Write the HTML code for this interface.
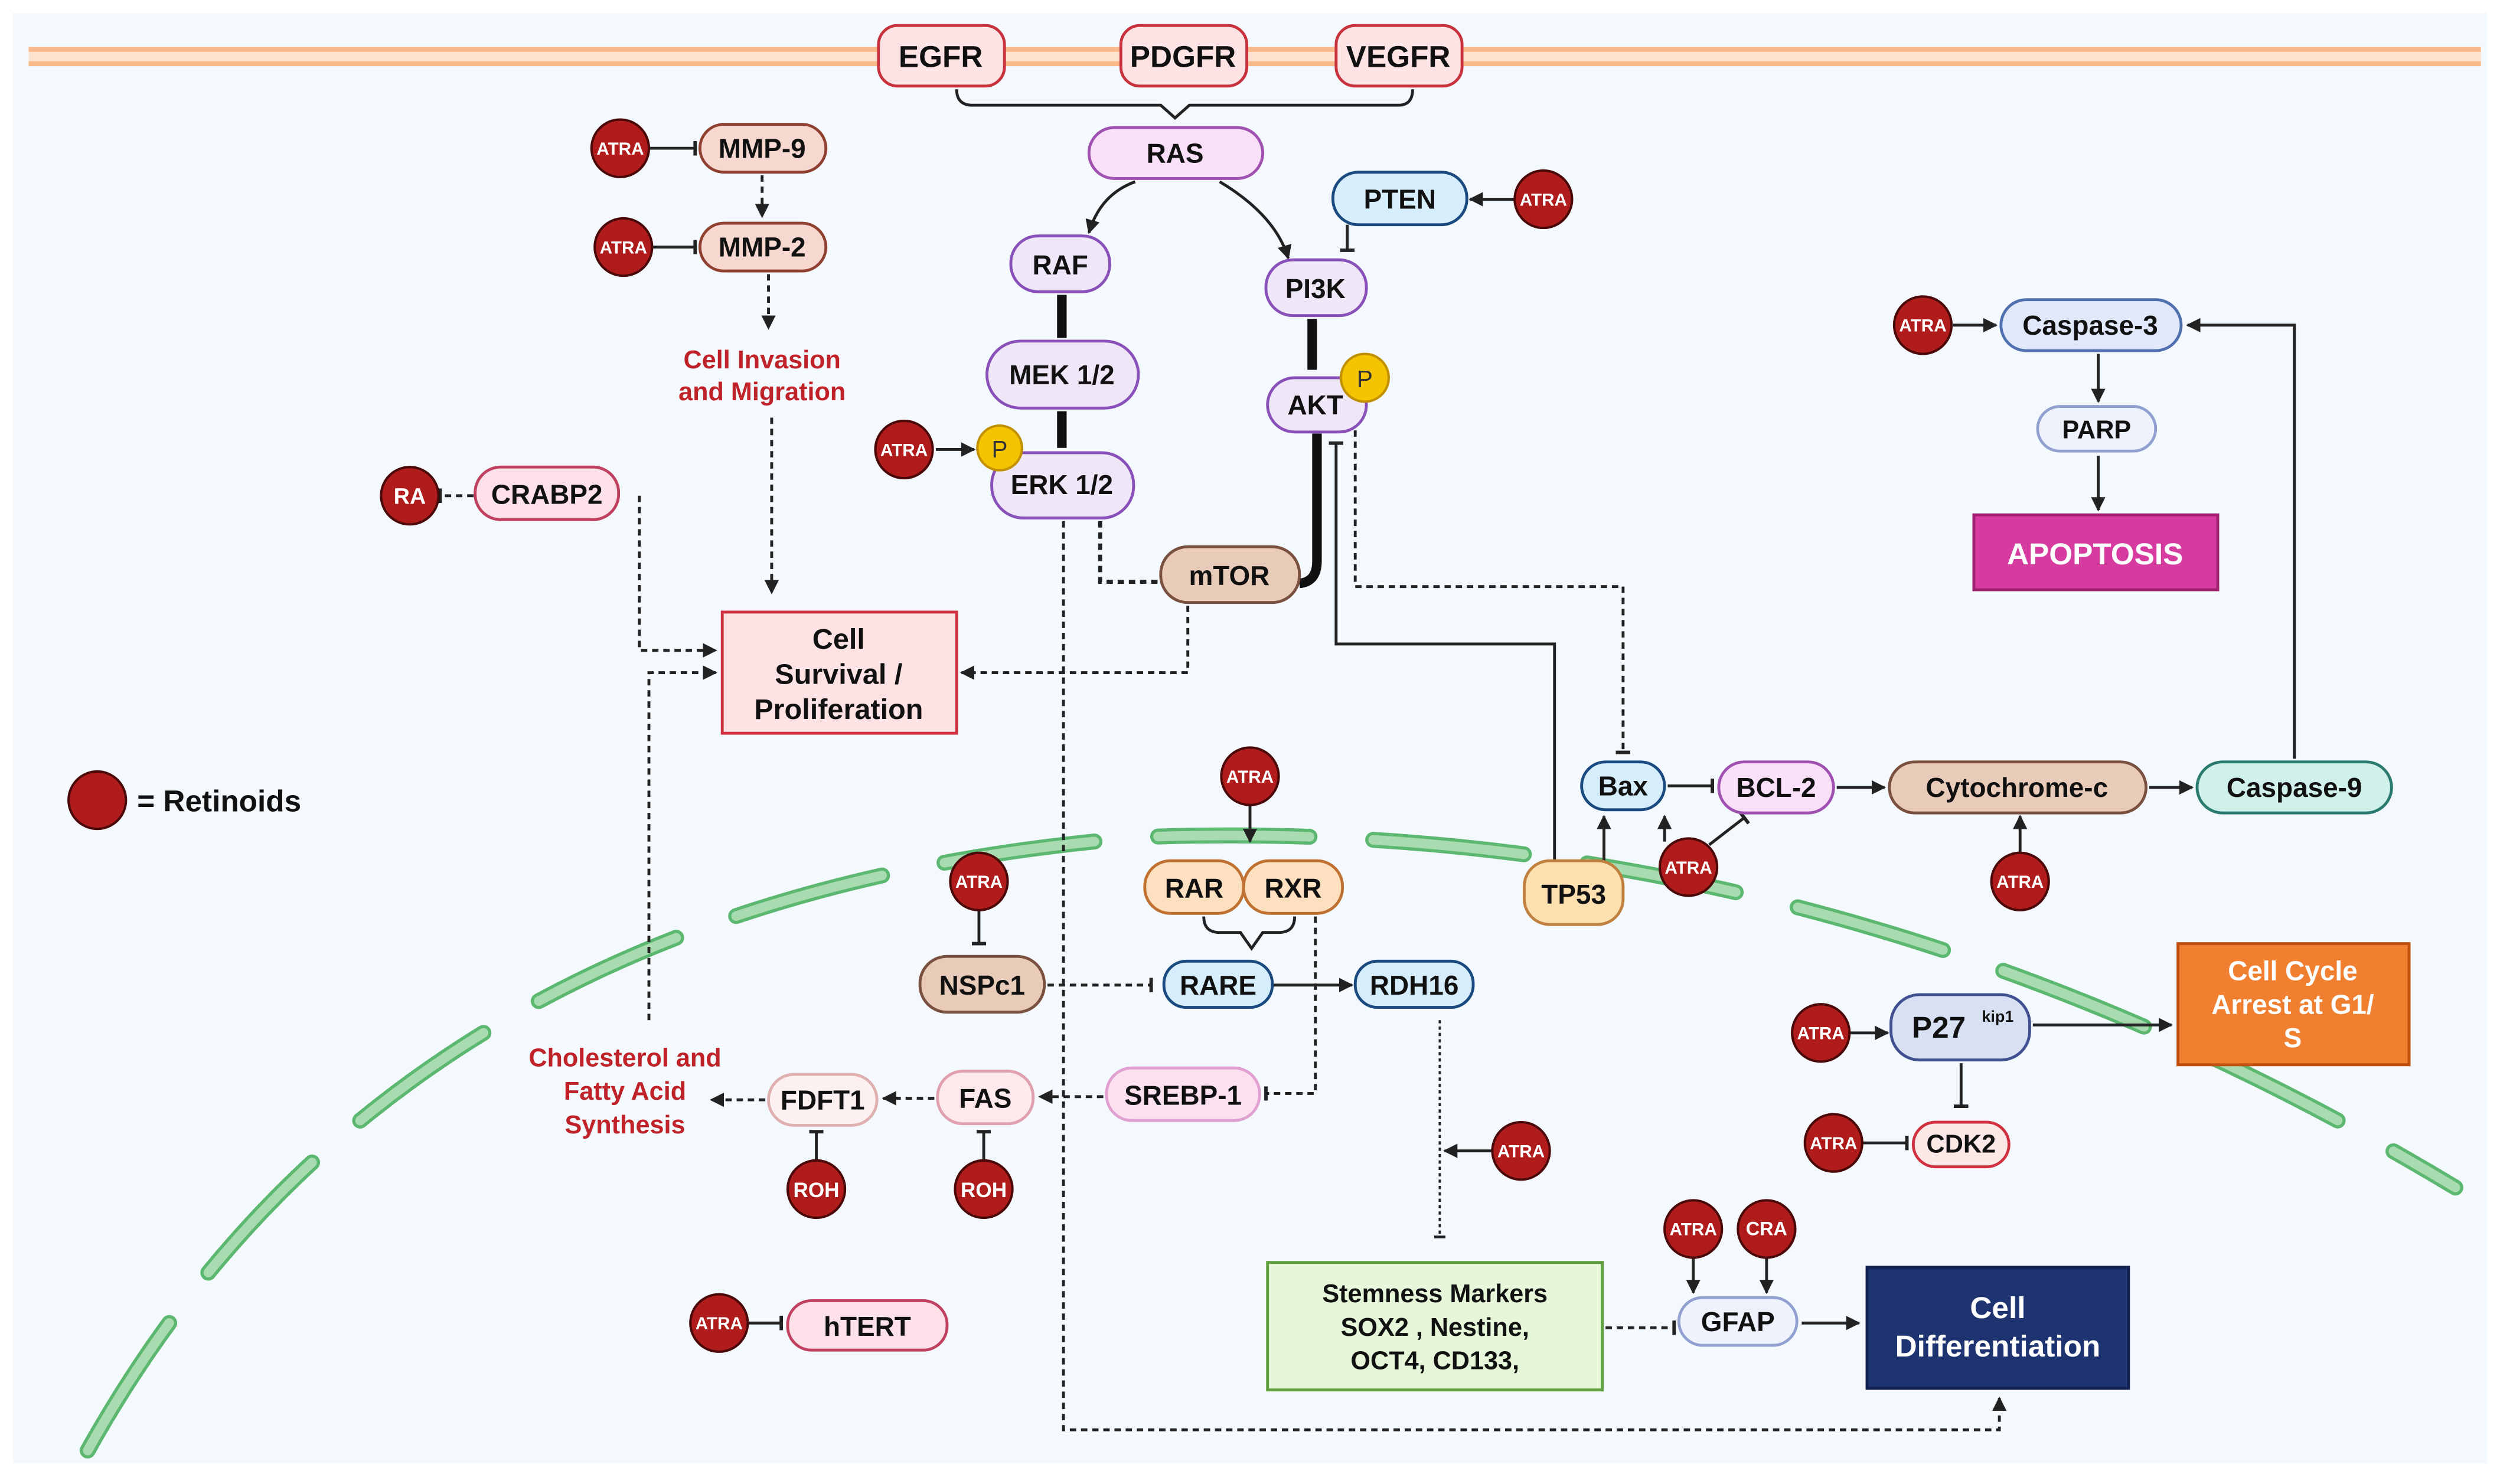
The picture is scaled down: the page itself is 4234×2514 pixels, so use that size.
<!DOCTYPE html>
<html><head><meta charset="utf-8"><style>
html,body{margin:0;padding:0;background:#fff}
svg{display:block}
text{font-family:"Liberation Sans",sans-serif;font-weight:bold}
</style></head><body>
<svg width="4234" height="2514" viewBox="0 0 1568 931" preserveAspectRatio="none" xmlns="http://www.w3.org/2000/svg">
<defs>
<marker id="a" viewBox="0 0 10 10" refX="9" refY="5" markerWidth="5" markerHeight="5" orient="auto"><path d="M0,0L10,5L0,10z" fill="#222"/></marker>
<marker id="b" viewBox="0 0 10 10" refX="5" refY="5" markerWidth="5" markerHeight="5" orient="auto"><path d="M5,-2V12" stroke="#222" stroke-width="2.4"/></marker>
</defs>
<rect x="0" y="0" width="1568" height="931" fill="#fff"/>
<rect x="8" y="8" width="1552" height="910" fill="#f3f9fc"/>
<!-- membrane -->
<rect x="18" y="31" width="1538" height="9" fill="#fde3cf"/>
<line x1="18" y1="31" x2="1556" y2="31" stroke="#f9b98a" stroke-width="3"/>
<line x1="18" y1="40" x2="1556" y2="40" stroke="#f9b98a" stroke-width="3"/>
<!-- nuclear membrane -->
<path d="M55 910 Q250 560 720 525 Q1150 510 1540 745" fill="none" stroke="#5cb870" stroke-width="10" stroke-dasharray="95 40" stroke-linecap="round"/>
<path d="M55 910 Q250 560 720 525 Q1150 510 1540 745" fill="none" stroke="#a8dcb0" stroke-width="6" stroke-dasharray="95 40" stroke-linecap="round"/>
<g stroke="#222" stroke-width="1.8" fill="none">
<!-- brace -->
<path d="M600 56 Q600 66 610 66 H728 L737 74 L746 66 H877 Q886 66 886 56"/>
<path d="M712 114 Q690 122 683 146" marker-end="url(#a)"/>
<path d="M765 114 Q800 135 808 162" marker-end="url(#a)"/>
<path d="M950 125 H922" marker-end="url(#a)"/>
<path d="M845 141 V157" marker-end="url(#b)"/>
<path d="M587 282 H611" marker-end="url(#a)"/>
<path d="M406 93 H436" marker-end="url(#b)"/>
<path d="M408 155 H436" marker-end="url(#b)"/>
<path d="M478 110 V136" stroke-dasharray="4 3" marker-end="url(#a)"/>
<path d="M482 172 V206" stroke-dasharray="4 3" marker-end="url(#a)"/>
<path d="M484 262 V372" stroke-dasharray="4 3" marker-end="url(#a)"/>
<path d="M297 311 H276" stroke-dasharray="4 3" marker-end="url(#b)"/>
<path d="M401 311 V408 H449" stroke-dasharray="4 3" marker-end="url(#a)"/>
<path d="M407 640 V422 H449" stroke-dasharray="4 3" marker-end="url(#a)"/>
<path d="M745 380 V422 H603" stroke-dasharray="4 3" marker-end="url(#a)"/>
<path d="M690 327 V365 H728" stroke-dasharray="4 3" stroke-width="2.5"/>
<path d="M667 327 V897 H1254 V877" stroke-dasharray="4 3" marker-end="url(#a)"/>
<path d="M975 540 V404 H838 V278" marker-end="url(#b)"/>
<path d="M850 270 V368 H1018 V472" stroke-dasharray="4 3" marker-end="url(#b)"/>
<path d="M1046 493 H1074" marker-end="url(#b)"/>
<path d="M1152 494 H1182" marker-end="url(#a)"/>
<path d="M1348 494 H1375" marker-end="url(#a)"/>
<path d="M1439 476 V204 H1372" marker-end="url(#a)"/>
<path d="M1225 204 H1252" marker-end="url(#a)"/>
<path d="M1316 222 V252" marker-end="url(#a)"/>
<path d="M1316 286 V320" marker-end="url(#a)"/>
<path d="M1006 540 V512" marker-end="url(#a)"/>
<path d="M1044 528 V512" marker-end="url(#a)"/>
<path d="M1072 530 L1094 513" marker-end="url(#b)"/>
<path d="M1267 535 V512" marker-end="url(#a)"/>
<path d="M784 505 V528" marker-end="url(#a)"/>
<path d="M755 575 Q755 585 765 585 H778 L785 595 L792 585 H802 Q812 585 812 575"/>
<path d="M798 618 H848" marker-end="url(#a)"/>
<path d="M614 571 V592" marker-end="url(#b)"/>
<path d="M657 618 H722" stroke-dasharray="4 3" marker-end="url(#b)"/>
<path d="M825 575 V686 H794" stroke-dasharray="4 3" marker-end="url(#b)"/>
<path d="M692 688 H652" stroke-dasharray="4 3" marker-end="url(#a)"/>
<path d="M586 689 H554" stroke-dasharray="4 3" marker-end="url(#a)"/>
<path d="M480 690 H446" stroke-dasharray="4 3" marker-end="url(#a)"/>
<path d="M512 728 V710" marker-end="url(#b)"/>
<path d="M617 728 V710" marker-end="url(#b)"/>
<path d="M903 640 V776" stroke-dasharray="2 2" stroke-width="1.4" marker-end="url(#b)"/>
<path d="M936 722 H906" marker-end="url(#a)"/>
<path d="M1007 833 H1050" stroke-dasharray="4 3" marker-end="url(#b)"/>
<path d="M1062 789 V811" marker-end="url(#a)"/>
<path d="M1108 789 V811" marker-end="url(#a)"/>
<path d="M1130 830 H1166" marker-end="url(#a)"/>
<path d="M469 830 H490" marker-end="url(#b)"/>
<path d="M1275 643 H1362" marker-end="url(#a)"/>
<path d="M1160 648 H1184" marker-end="url(#a)"/>
<path d="M1230 667 V694" marker-end="url(#b)"/>
<path d="M1168 717 H1196" marker-end="url(#b)"/>
</g>
<g stroke="#111" stroke-width="6">
<line x1="666" y1="185" x2="666" y2="212"/><line x1="666" y1="258" x2="666" y2="281"/>
<line x1="823" y1="200" x2="823" y2="232"/>
</g>
<path d="M826 272 V352 Q826 365 815 366" stroke="#111" stroke-width="6" fill="none"/>
<!-- nodes -->
<g stroke-width="1.8">
<rect x="551" y="16" width="79" height="38" rx="12" fill="#fde3e3" stroke="#c8323c"/>
<rect x="703" y="16" width="79" height="38" rx="12" fill="#fde3e3" stroke="#c8323c"/>
<rect x="838" y="16" width="79" height="38" rx="12" fill="#fde3e3" stroke="#c8323c"/>
<rect x="683" y="80" width="109" height="32" rx="16" fill="#f9e0f8" stroke="#a050b0"/>
<rect x="836" y="108" width="84" height="33" rx="16" fill="#d6eefc" stroke="#1a4a80"/>
<rect x="634" y="148" width="62" height="35" rx="17" fill="#efe6f8" stroke="#8850b8"/>
<rect x="794" y="163" width="63" height="35" rx="17" fill="#efe6f8" stroke="#8850b8"/>
<rect x="619" y="214" width="95" height="42" rx="21" fill="#efe6f8" stroke="#8850b8"/>
<rect x="622" y="284" width="89" height="41" rx="20" fill="#efe6f8" stroke="#8850b8"/>
<rect x="795" y="237" width="62" height="34" rx="17" fill="#efe6f8" stroke="#8850b8"/>
<rect x="728" y="343" width="87" height="35" rx="17" fill="#e8cbb8" stroke="#7a5040"/>
<rect x="439" y="78" width="79" height="30" rx="15" fill="#f7d8d0" stroke="#904030"/>
<rect x="439" y="140" width="79" height="30" rx="15" fill="#f7d8d0" stroke="#904030"/>
<rect x="298" y="293" width="90" height="33" rx="16" fill="#fde0e8" stroke="#c04060"/>
<rect x="453" y="384" width="147" height="76" fill="#fde3e3" stroke="#d03040"/>
<rect x="992" y="478" width="52" height="30" rx="15" fill="#d6eefc" stroke="#1a4a80"/>
<rect x="1078" y="478" width="72" height="32" rx="16" fill="#f9e0f8" stroke="#a050b0"/>
<rect x="1185" y="478" width="161" height="32" rx="16" fill="#e8cbb8" stroke="#7a5040"/>
<rect x="1378" y="478" width="122" height="32" rx="16" fill="#d0f0ea" stroke="#2a7a70"/>
<rect x="1255" y="188" width="113" height="32" rx="16" fill="#e0e8fa" stroke="#5070b0"/>
<rect x="1278" y="255" width="74" height="28" rx="14" fill="#eef2fc" stroke="#90a0d0"/>
<rect x="1238" y="323" width="153" height="47" fill="#d63ca0" stroke="#a02070"/>
<rect x="956" y="540" width="62" height="40" rx="16" fill="#fde0b0" stroke="#c08040"/>
<rect x="718" y="540" width="62" height="33" rx="16" fill="#fde0c0" stroke="#c07030"/>
<rect x="780" y="540" width="62" height="33" rx="16" fill="#fde0c0" stroke="#c07030"/>
<rect x="730" y="603" width="68" height="29" rx="14" fill="#d6eefc" stroke="#1a4a80"/>
<rect x="850" y="603" width="74" height="29" rx="14" fill="#d6eefc" stroke="#1a4a80"/>
<rect x="577" y="600" width="78" height="35" rx="17" fill="#e8cbb8" stroke="#7a5040"/>
<rect x="694" y="670" width="96" height="33" rx="16" fill="#fde0f0" stroke="#e0a0d0"/>
<rect x="588" y="672" width="60" height="33" rx="16" fill="#fde8ec" stroke="#e0a0b0"/>
<rect x="482" y="674" width="68" height="32" rx="16" fill="#fdf0f0" stroke="#e0b0b0"/>
<rect x="795" y="792" width="210" height="80" fill="#e6f6d8" stroke="#60a040"/>
<rect x="1053" y="814" width="74" height="30" rx="15" fill="#eef2fc" stroke="#90a0d0"/>
<rect x="1171" y="795" width="164" height="76" fill="#1e3470" stroke="#102050"/>
<rect x="494" y="816" width="100" height="31" rx="15" fill="#fde0e8" stroke="#c04060"/>
<rect x="1366" y="592" width="145" height="76" fill="#f08030" stroke="#c05010"/>
<rect x="1186" y="624" width="87" height="41" rx="18" fill="#d8e0f4" stroke="#405090"/>
<rect x="1200" y="704" width="60" height="28" rx="14" fill="#fde8e8" stroke="#d03040"/>
</g>
<!-- P circles -->
<g fill="#f5c400" stroke="#c09000" stroke-width="1.5"><circle cx="627" cy="281" r="14"/><circle cx="856" cy="237" r="15"/></g>
<g font-size="15" fill="#333" text-anchor="middle" style="font-weight:normal"><text x="627" y="287" style="font-weight:normal">P</text><text x="856" y="243" style="font-weight:normal">P</text></g>
<!-- retinoid circles -->
<g fill="#b01c1c" stroke="#4a0808" stroke-width="1.5">
<circle cx="389" cy="93" r="18"/><circle cx="391" cy="155" r="18"/><circle cx="257" cy="311" r="18"/>
<circle cx="567" cy="282" r="18"/><circle cx="968" cy="125" r="18"/><circle cx="1206" cy="204" r="18"/>
<circle cx="61" cy="502" r="18"/><circle cx="784" cy="487" r="18"/><circle cx="614" cy="553" r="18"/>
<circle cx="1059" cy="544" r="18"/><circle cx="1267" cy="553" r="18"/><circle cx="1142" cy="648" r="18"/>
<circle cx="1150" cy="717" r="18"/><circle cx="954" cy="722" r="18"/><circle cx="1062" cy="771" r="18"/>
<circle cx="1108" cy="771" r="18"/><circle cx="451" cy="830" r="18"/><circle cx="512" cy="746" r="18"/><circle cx="617" cy="746" r="18"/>
</g>
<g font-size="11" fill="#fff" text-anchor="middle">
<text x="389" y="97">ATRA</text><text x="391" y="159">ATRA</text><text x="257" y="316" font-size="14">RA</text>
<text x="567" y="286">ATRA</text><text x="968" y="129">ATRA</text><text x="1206" y="208">ATRA</text>
<text x="784" y="491">ATRA</text><text x="614" y="557">ATRA</text><text x="1059" y="548">ATRA</text>
<text x="1267" y="557">ATRA</text><text x="1142" y="652">ATRA</text><text x="1150" y="721">ATRA</text>
<text x="954" y="726">ATRA</text><text x="1062" y="775">ATRA</text><text x="1108" y="775" font-size="12">CRA</text>
<text x="451" y="834">ATRA</text><text x="512" y="751" font-size="13">ROH</text><text x="617" y="751" font-size="13">ROH</text>
</g>
<!-- labels -->
<g font-size="17" fill="#111" text-anchor="middle">
<text x="590" y="42" font-size="19">EGFR</text><text x="742" y="42" font-size="19">PDGFR</text><text x="877" y="42" font-size="19">VEGFR</text>
<text x="737" y="102">RAS</text><text x="878" y="131">PTEN</text><text x="665" y="172">RAF</text><text x="825" y="187">PI3K</text>
<text x="666" y="241">MEK 1/2</text><text x="666" y="310">ERK 1/2</text><text x="825" y="260">AKT</text>
<text x="771" y="367">mTOR</text><text x="478" y="99">MMP-9</text><text x="478" y="161">MMP-2</text><text x="343" y="316">CRABP2</text>
<text x="526" y="407" font-size="18">Cell</text><text x="526" y="429" font-size="18">Survival /</text><text x="526" y="451" font-size="18">Proliferation</text>
<text x="1018" y="499">Bax</text><text x="1114" y="500">BCL-2</text><text x="1265" y="500">Cytochrome-c</text><text x="1439" y="500">Caspase-9</text>
<text x="1311" y="210">Caspase-3</text><text x="1315" y="275" font-size="16">PARP</text>
<text x="1314" y="354" font-size="19" fill="#fff">APOPTOSIS</text>
<text x="987" y="567">TP53</text><text x="749" y="563">RAR</text><text x="811" y="563">RXR</text>
<text x="764" y="624">RARE</text><text x="887" y="624">RDH16</text><text x="616" y="624">NSPc1</text>
<text x="742" y="693">SREBP-1</text><text x="618" y="695">FAS</text><text x="516" y="696">FDFT1</text>
<text x="900" y="817" font-size="16">Stemness Markers</text><text x="900" y="838" font-size="16">SOX2 , Nestine,</text><text x="900" y="859" font-size="16">OCT4, CD133,</text>
<text x="1090" y="835">GFAP</text>
<text x="1253" y="827" font-size="19" fill="#fff">Cell</text><text x="1253" y="851" font-size="19" fill="#fff">Differentiation</text>
<text x="544" y="838">hTERT</text>
<text x="1438" y="615" fill="#fff">Cell Cycle</text><text x="1438" y="636" fill="#fff">Arrest at G1/</text><text x="1438" y="657" fill="#fff">S</text>
<text x="1216" y="651" font-size="19">P27</text><text x="1253" y="641" font-size="10">kip1</text>
<text x="1230" y="723" font-size="16">CDK2</text>
</g>
<g font-size="16" fill="#c0222a" text-anchor="middle">
<text x="478" y="231">Cell Invasion</text><text x="478" y="251">and Migration</text>
<text x="392" y="669">Cholesterol and</text><text x="392" y="690">Fatty Acid</text><text x="392" y="711">Synthesis</text>
</g>
<text x="86" y="509" font-size="19" fill="#111">= Retinoids</text>
</svg>
</body></html>
